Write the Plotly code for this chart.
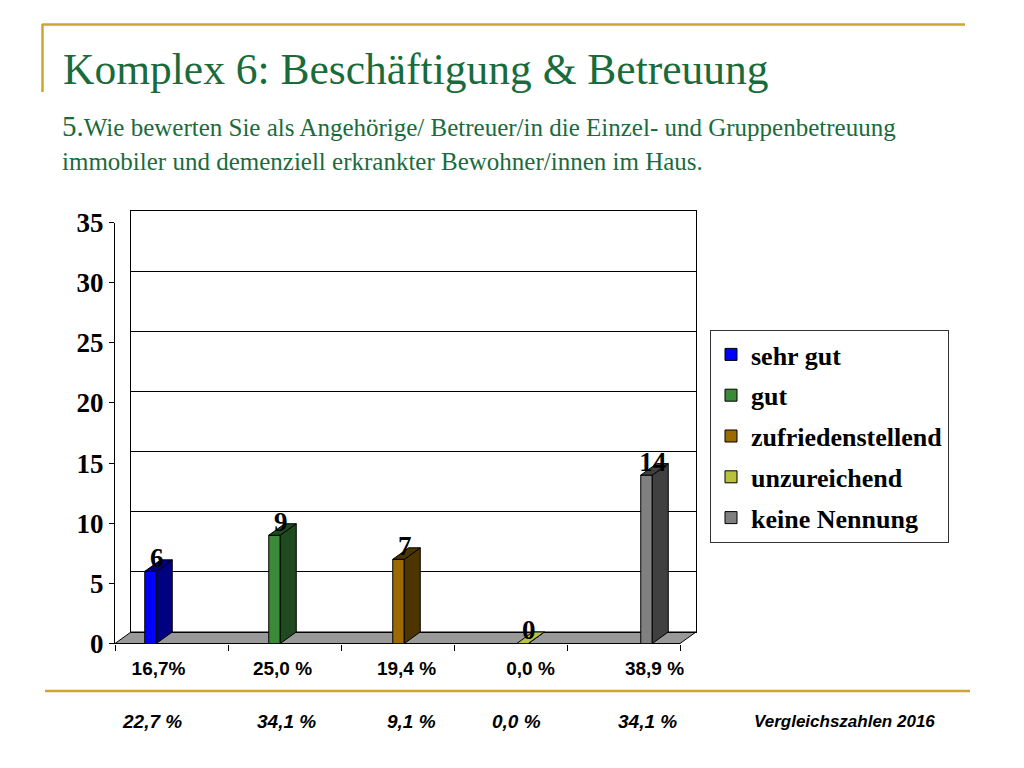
import plotly.graph_objects as go

# ---------------- data ----------------
categories = ["sehr gut", "gut", "zufriedenstellend", "unzureichend", "keine Nennung"]
counts = [6, 9, 7, 0, 14]
share_labels = ["16,7%", "25,0 %", "19,4 %", "0,0 %", "38,9 %"]
share_2016 = ["22,7 %", "34,1 %", "9,1 %", "0,0 %", "34,1 %"]
compare_caption = "Vergleichszahlen 2016"
y_ticks = [0, 5, 10, 15, 20, 25, 30, 35]

title_text = "Komplex 6: Beschäftigung &amp; Betreuung"
question_line1 = "<span style='font-size:29px'>5.</span>Wie bewerten Sie als Angehörige/ Betreuer/in die Einzel- und Gruppenbetreuung"
question_line2 = "immobiler und demenziell erkrankter Bewohner/innen im Haus."

# ---------------- style ----------------
front_colors = ["#0000FF", "#3A8A3A", "#9C6A00", "#B8C23C", "#808080"]
side_colors = ["#000080", "#1F4A1F", "#4D3500", "#8A9A28", "#404040"]
GREEN = "#1A6B3C"
GOLD = "#CFA532"
SERIF = "Liberation Serif, Times New Roman, serif"
SANS = "Liberation Sans, Arial, sans-serif"

W, H = 1024, 768
OFF = 8  # page body margin compensation


def fx(px):
    return (px - OFF) / W


def fy(py):
    return 1 - (py - OFF) / H


# geometry (pixels) of the pseudo-3D frame
FRONT_L, FRONT_R, FRONT_B, FRONT_T = 115, 680, 643.5, 222.5
DX, DY = 16, 11.5
BAR_PITCH = 124.0          # px between bar centres
FIRST_BAR = 150.5          # px of first bar centre
BAR_W_PX = 11.5

x_min = (FRONT_L - FIRST_BAR) / BAR_PITCH
x_max = (FRONT_R - FIRST_BAR) / BAR_PITCH
y_max = 35
px_per_y = (FRONT_B - FRONT_T) / y_max
dxu = DX / BAR_PITCH
dyu = DY / px_per_y
hw = BAR_W_PX / BAR_PITCH / 2

fig = go.Figure()

idx = list(range(len(categories)))

# anchors so that the back wall and the tick-mark axis are drawn
fig.add_trace(go.Scatter(x=[0], y=[0], mode="markers", marker=dict(opacity=0),
                         showlegend=False, hoverinfo="skip", xaxis="x", yaxis="y"))
fig.add_trace(go.Scatter(x=[0], y=[0], mode="markers", marker=dict(opacity=0),
                         showlegend=False, hoverinfo="skip", xaxis="x3", yaxis="y2"))

# side and top faces (depth of the pseudo-3D bars)
for i, v in zip(idx, counts):
    fig.add_trace(go.Scatter(
        x=[i + hw, i + hw + dxu, i + hw + dxu, i + hw, i + hw],
        y=[0, dyu, v + dyu, v, 0],
        mode="lines", fill="toself", fillcolor=side_colors[i],
        line=dict(color="black", width=1), showlegend=False, hoverinfo="skip",
        xaxis="x2", yaxis="y2"))
    fig.add_trace(go.Scatter(
        x=[i - hw, i + hw, i + hw + dxu, i - hw + dxu, i - hw],
        y=[v, v, v + dyu, v + dyu, v],
        mode="lines", fill="toself",
        fillcolor=side_colors[i] if v > 0 else front_colors[i],
        line=dict(color="black", width=1), showlegend=False, hoverinfo="skip",
        xaxis="x2", yaxis="y2"))

# front faces (the bars themselves)
for i, (name, v) in enumerate(zip(categories, counts)):
    fig.add_trace(go.Bar(
        x=[i], y=[v], name=name, width=2 * hw,
        marker=dict(color=front_colors[i], line=dict(color="black", width=1)),
        legendgroup=name, xaxis="x2", yaxis="y2", hoverinfo="y"))

# value labels
fig.add_trace(go.Scatter(
    x=[i + 0.05 for i in idx], y=[v + 0.9 for v in counts],
    text=[str(v) for v in counts], mode="text",
    textfont=dict(family=SERIF, size=27, color="black", weight="bold"),
    textposition="middle center", cliponaxis=False, showlegend=False,
    hoverinfo="skip", xaxis="x2", yaxis="y2"))

label_shift = 8 / BAR_PITCH

fig.update_layout(
    width=W, height=H, autosize=False,
    margin=dict(l=0, r=0, t=0, b=0, autoexpand=False),
    paper_bgcolor="white", plot_bgcolor="rgba(0,0,0,0)",
    barmode="overlay",
    showlegend=True,
    legend=dict(x=fx(710), y=fy(330), xanchor="left", yanchor="top",
                bgcolor="white", bordercolor="#333333", borderwidth=1,
                font=dict(family=SERIF, size=26, color="black", weight="bold"),
                traceorder="grouped", tracegroupgap=4,
                itemclick=False, itemdoubleclick=False),
    # back wall
    xaxis=dict(domain=[fx(FRONT_L + DX), fx(FRONT_R + DX)], range=[0, 1],
               anchor="y", showgrid=False, zeroline=False, showline=True,
               mirror=True, linecolor="black", linewidth=1,
               showticklabels=False, ticks="", fixedrange=True),
    yaxis=dict(domain=[fy(FRONT_B - DY), fy(FRONT_T - DY)], range=[0, y_max],
               anchor="x", tickvals=y_ticks, showgrid=True, gridcolor="black",
               gridwidth=1, zeroline=False, showline=True, mirror=True,
               linecolor="black", linewidth=1, showticklabels=False,
               ticks="", fixedrange=True),
    # front plane
    xaxis2=dict(domain=[fx(FRONT_L), fx(FRONT_R)], range=[x_min, x_max],
                anchor="y2", tickvals=[i + label_shift for i in idx],
                ticktext=share_labels, ticks="", showgrid=False,
                zeroline=False, showline=False, ticklabelstandoff=11,
                tickfont=dict(family=SANS, size=19, color="black", weight="bold"),
                fixedrange=True),
    yaxis2=dict(domain=[fy(FRONT_B), fy(FRONT_T)], range=[0, y_max],
                anchor="x2", tickvals=y_ticks, ticks="outside", ticklen=5,
                tickcolor="black", showline=True, linecolor="black",
                linewidth=1, showgrid=False, zeroline=False,
                tickfont=dict(family=SERIF, size=27, color="black", weight="bold"),
                fixedrange=True),
    xaxis3=dict(overlaying="x2", anchor="y2", range=[0, 5],
                tickvals=[0, 1, 2, 3, 4, 5], ticks="outside", ticklen=6,
                tickcolor="black", showticklabels=False, showgrid=False,
                showline=False, zeroline=False, fixedrange=True),
)

# floor of the pseudo-3D chart
floor_path = (f"M {fx(FRONT_L)},{fy(FRONT_B)} L {fx(FRONT_R)},{fy(FRONT_B)} "
              f"L {fx(FRONT_R + DX)},{fy(FRONT_B - DY)} L {fx(FRONT_L + DX)},{fy(FRONT_B - DY)} Z")
fig.add_shape(type="path", path=floor_path, xref="paper", yref="paper",
              fillcolor="#999999", line=dict(color="black", width=1), layer="below")

# decorative gold lines
fig.add_shape(type="line", xref="paper", yref="paper", x0=fx(42), x1=fx(965),
              y0=fy(24.5), y1=fy(24.5), line=dict(color=GOLD, width=2.5))
fig.add_shape(type="line", xref="paper", yref="paper", x0=fx(42.5), x1=fx(42.5),
              y0=fy(24), y1=fy(92), line=dict(color=GOLD, width=2.5))
fig.add_shape(type="line", xref="paper", yref="paper", x0=fx(45), x1=fx(970),
              y0=fy(691), y1=fy(691), line=dict(color=GOLD, width=2.5))

# title & question
fig.add_annotation(text=title_text, xref="paper", yref="paper", x=fx(61), y=fy(69),
                   xanchor="left", yanchor="middle", showarrow=False,
                   font=dict(family=SERIF, size=43.5, color=GREEN))
fig.add_annotation(text=question_line1, xref="paper", yref="paper", x=fx(60), y=fy(126),
                   xanchor="left", yanchor="middle", showarrow=False,
                   font=dict(family=SERIF, size=25, color=GREEN))
fig.add_annotation(text=question_line2, xref="paper", yref="paper", x=fx(60), y=fy(161),
                   xanchor="left", yanchor="middle", showarrow=False,
                   font=dict(family=SERIF, size=25, color=GREEN))

# comparison figures 2016
cmp_x_px = [152, 286, 411, 516, 647]
for xp, t in zip(cmp_x_px, share_2016):
    fig.add_annotation(text=f"<b><i>{t}</i></b>", xref="paper", yref="paper",
                       x=fx(xp), y=fy(721), xanchor="center", yanchor="middle",
                       showarrow=False, font=dict(family=SANS, size=19, color="black"))
fig.add_annotation(text=f"<b><i>{compare_caption}</i></b>", xref="paper", yref="paper",
                   x=fx(844), y=fy(721), xanchor="center", yanchor="middle",
                   showarrow=False, font=dict(family=SANS, size=17, color="black"))

fig.write_html("out.html")
